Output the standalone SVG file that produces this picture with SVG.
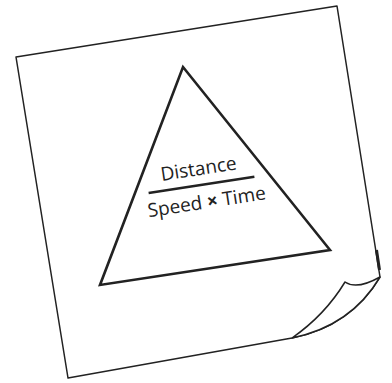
<svg xmlns="http://www.w3.org/2000/svg" width="392" height="383" viewBox="0 0 392 383">
<style>
.paper{fill:#fff;stroke:#222;stroke-width:1.5;stroke-linejoin:round}
.tri{fill:none;stroke:#222;stroke-width:2.6;stroke-linejoin:miter}
.t{font-family:"Open Sans","Lato",sans-serif;font-size:19px;fill:#222;text-anchor:middle}
</style>
<rect width="392" height="383" fill="#fff"/>
<g id="paper">
<path class="paper" d="M16,57 L337,6 L380,277 Q351,326 292,338 L68,378 Z"/>
<path d="M376.5,250 L379.5,270" stroke="#222" stroke-width="3" fill="none"/>
<path class="paper" d="M345,282 Q357,290 380,277 Q351,326 292,338 Q325,315 345,282 Z"/>
</g>
<g id="triangle">
<path class="tri" d="M183,67 L330,250 L100,285 Z"/>
</g>
<g id="formula" transform="rotate(-8.7 201 185)">
<text class="t" x="201" y="175">Distance</text>
<line x1="148" y1="185" x2="255" y2="185" stroke="#222" stroke-width="2.6"/>
<text class="t" x="204" y="209">Speed <tspan font-weight="bold">×</tspan> Time</text>
</g>
</svg>
